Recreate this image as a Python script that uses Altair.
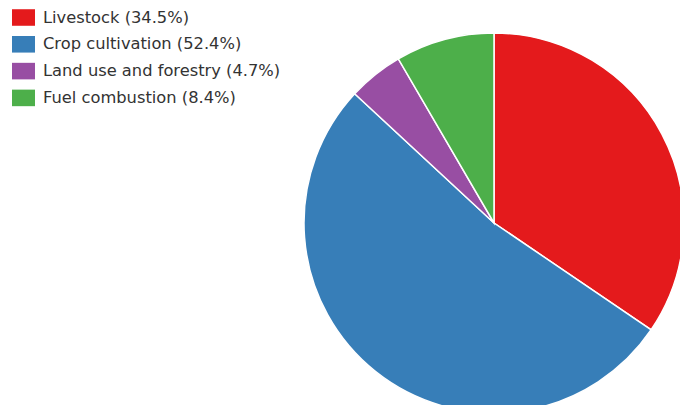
import altair as alt
import pandas as pd

categories = ["Livestock", "Crop cultivation", "Land use and forestry", "Fuel combustion"]
shares = [34.5, 52.4, 4.7, 8.4]
colors = ["#e41a1c", "#377eb8", "#984ea3", "#4daf4a"]

labels = [f"{c} ({v}%)" for c, v in zip(categories, shares)]
df = pd.DataFrame({"label": labels, "share": shares, "idx": list(range(len(shares)))})

chart = alt.Chart(df).mark_arc(
    stroke="white", strokeWidth=1.5, radius=190
).encode(
    theta=alt.Theta("share:Q", stack=True),
    order=alt.Order("idx:Q"),
    x=alt.value(486),
    y=alt.value(215),
    color=alt.Color(
        "label:N",
        sort=labels,
        scale=alt.Scale(domain=labels, range=colors),
        legend=alt.Legend(
            title=None,
            orient="none",
            legendX=4,
            legendY=-2,
            symbolType="M-1,-0.72L1,-0.72L1,0.72L-1,0.72Z",
            symbolSize=529,
            symbolStrokeWidth=0,
            symbolOpacity=1,
            labelFont="DejaVu Sans",
            labelFontSize=16.3,
            labelColor="#333333",
            labelOffset=8,
            rowPadding=6.8,
            labelLimit=400,
        ),
    ),
).properties(
    width=672, height=397,
    autosize=alt.AutoSizeParams(type="none"),
    padding=0,
).configure_view(stroke=None)

chart.save("out.html", embed_options={"renderer": "svg", "actions": False})
